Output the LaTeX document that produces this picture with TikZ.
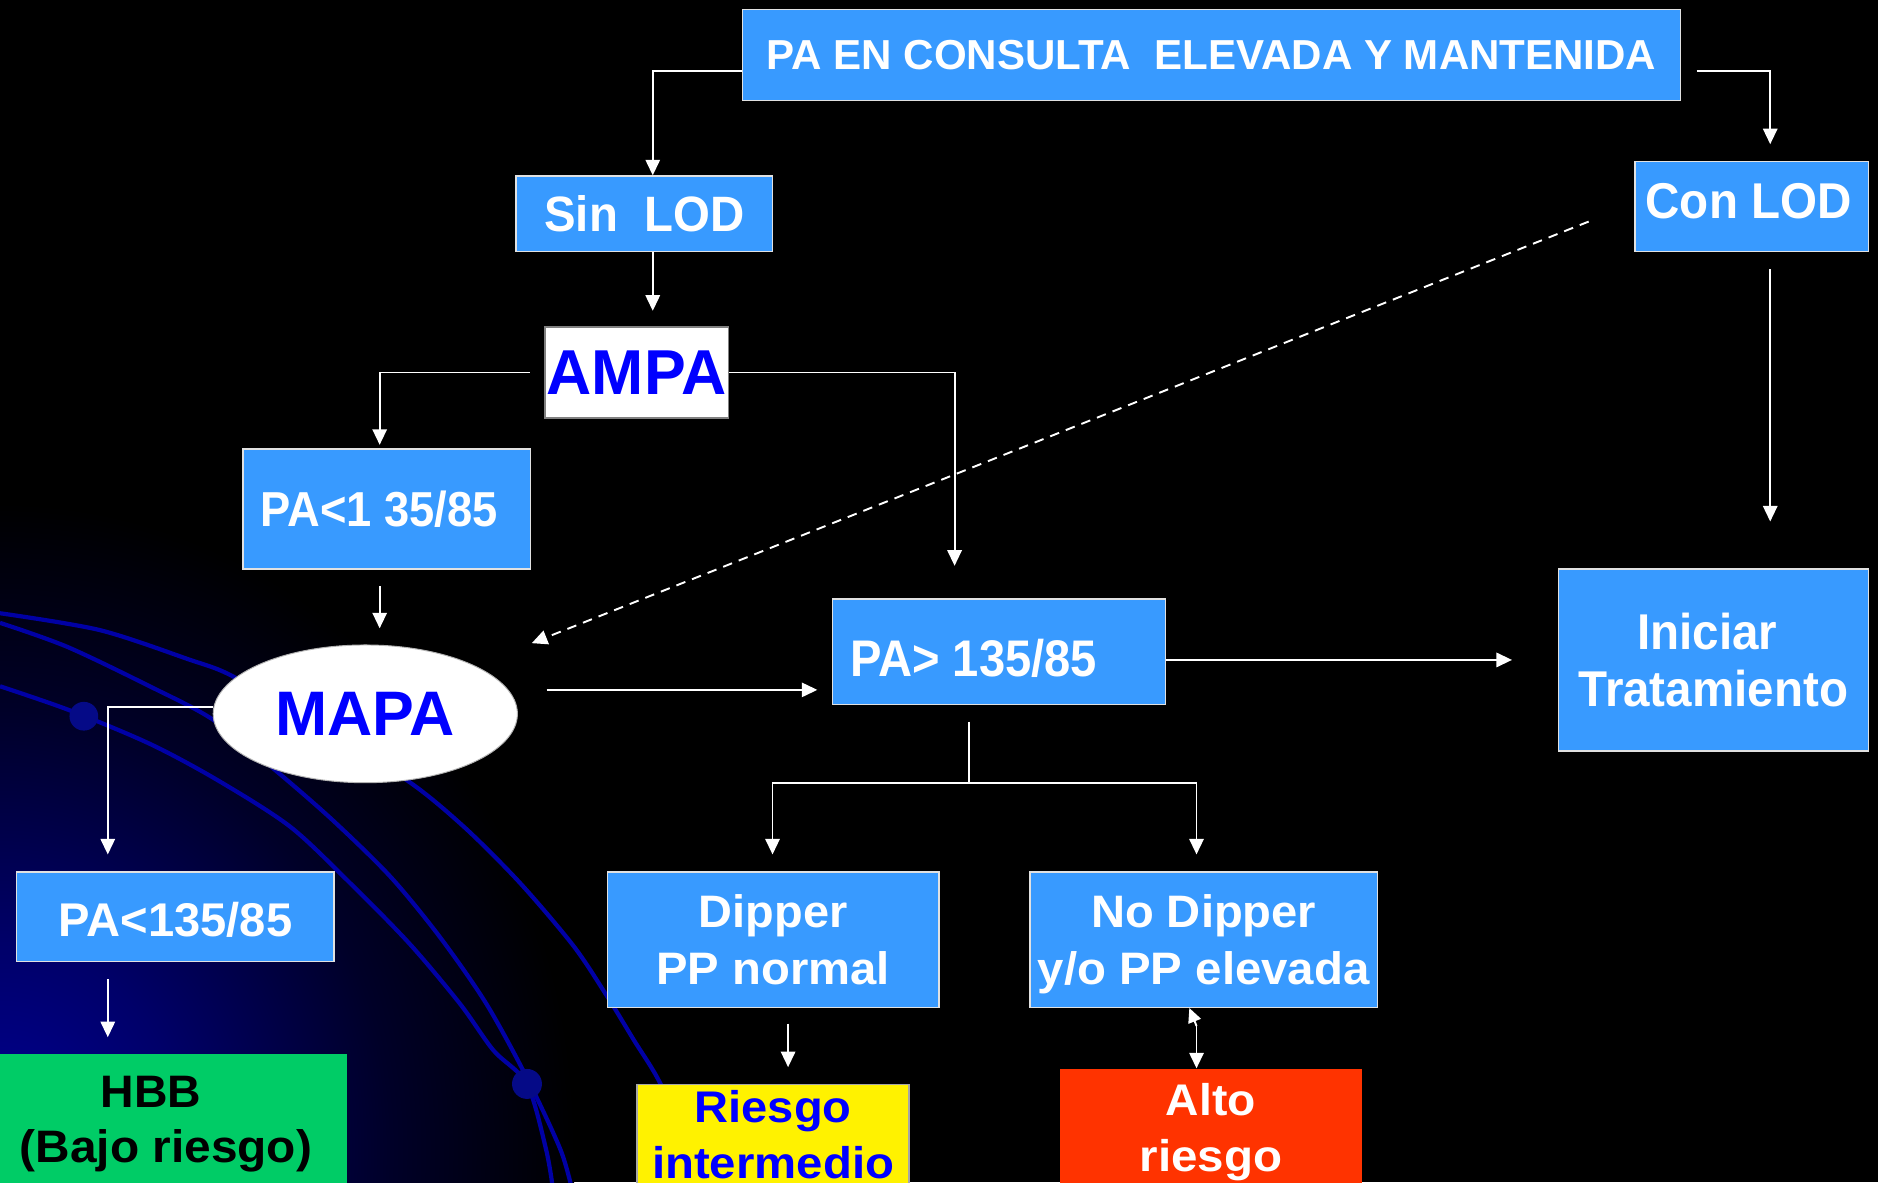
\documentclass[tikz,border=0pt]{standalone}
\usepackage{fontspec}
\usepackage{graphicx}
\setmainfont{Liberation Sans}
\usetikzlibrary{arrows.meta,shapes.geometric}
\definecolor{boxblue}{RGB}{56,154,255}
\definecolor{bordergray}{RGB}{225,225,225}
\definecolor{puroblue}{RGB}{0,0,255}
\definecolor{hbbgreen}{RGB}{0,204,102}
\definecolor{altored}{RGB}{255,51,0}
\definecolor{curveblue}{RGB}{0,0,165}
\definecolor{dotblue}{RGB}{5,10,135}
\definecolor{glowA}{RGB}{0,0,150}
\definecolor{glowB}{RGB}{0,0,105}
\definecolor{glowC}{RGB}{0,0,40}
\pgfdeclareradialshading{bgglow}{\pgfpointorigin}{color(0bp)=(glowA); color(8bp)=(glowB); color(17bp)=(glowC); color(25bp)=(black); color(50bp)=(black)}
% text fitted to a measured width, natural height kept
\newcommand\fitT[3]{\resizebox{#2pt}{\height}{\fontsize{#1pt}{#1pt}\selectfont #3}}
% shift content horizontally (#1) and vertically (#2)
\newcommand\shiftT[3]{\makebox[0pt]{\kern#1\raisebox{#2}[\height][\depth]{#3}\kern-#1}}
% no depth
\newcommand\nodp[1]{\raisebox{0pt}[\height][0pt]{#1}}
\begin{document}
\begin{tikzpicture}[x=1pt,y=-1pt,
  box/.style={draw=bordergray, line width=1.2pt, fill=boxblue, text=white, inner sep=0pt,
    align=center, font=\bfseries\fontsize{38pt}{47pt}\selectfont},
  ampabox/.style={draw=gray, line width=1pt, fill=white, text=puroblue, inner sep=0pt,
    font=\bfseries},
  riskbox/.style={inner sep=0pt, align=center, anchor=north,
    font=\bfseries\fontsize{37pt}{47pt}\selectfont},
  conn/.style={white, line width=1.6pt},
  arr/.style={conn, -{Triangle[length=13pt,width=12pt]}},
  curve/.style={curveblue, line width=3.5pt},
]
\useasboundingbox (0,0) rectangle (1568,987);
\clip (0,0) rectangle (1568,987);
\fill[black] (0,0) rectangle (1568,987);
\shade[shading=bgglow] (0,960) ellipse [x radius=480, y radius=540];

% decorative curves
\draw[curve] plot[smooth] coordinates {(0,512) (83,526) (156,550) (195,565) (265,608) (339,651) (387,690) (434,737) (479,790) (507,832) (529,868) (551,904) (575,960) (588,995)};
\draw[curve] plot[smooth] coordinates {(0,520) (56,540) (125,573) (178,601) (231,644) (278,685) (326,732) (367,782) (406,838) (440,900) (468,960) (478,995)};
\draw[curve] plot[smooth] coordinates {(0,573) (58,593) (125,621) (181,651) (242,690) (292,737) (342,788) (384,838) (412,877) (440,905) (456,960) (462,995)};
\fill[dotblue] (70,598) circle[radius=12];
\fill[dotblue] (440,905) circle[radius=12.5];

% nodes
\node[box, minimum width=783pt, minimum height=76pt] (top) at (1011.5,46)
  {\fitT{35}{743}{PA EN CONSULTA\ \ ELEVADA Y MANTENIDA}};
\node[box, minimum width=214pt, minimum height=63pt] (sinlod) at (538,178.5)
  {\fitT{41.5}{167}{Sin\ \ LOD}};
\node[box, minimum width=195pt, minimum height=75pt] (conlod) at (1462.5,172.5)
  {\shiftT{-2.5pt}{4.5pt}{\fitT{42}{172}{Con LOD}}};
\node[ampabox, minimum width=153pt, minimum height=76pt] (ampa) at (531.5,311)
  {\fitT{53}{150}{AMPA}};
\node[box, minimum width=240pt, minimum height=100pt] (pa1) at (323,425)
  {\shiftT{-6.5pt}{0pt}{\fitT{41}{198}{PA<1 35/85}}};
\node[ellipse, draw=gray!60, line width=0.8pt, fill=white, inner sep=0pt, minimum width=254pt,
  minimum height=115pt, text=puroblue, font=\bfseries] (mapa) at (305,596)
  {\fitT{52.5}{150}{MAPA}};
\node[box, minimum width=278pt, minimum height=88pt] (pa2) at (834,544)
  {\shiftT{-21pt}{-6pt}{\fitT{43}{206}{PA> 135/85}}};
\node[box, minimum width=259pt, minimum height=152pt, font=\bfseries\fontsize{42pt}{48pt}\selectfont] (ini) at (1430.5,551)
  {\shiftT{-5pt}{0pt}{\fitT{42}{117}{Iniciar}}\\\fitT{42}{225}{Tratamiento}};
\node[box, minimum width=265pt, minimum height=75pt] (pa3) at (146.5,765.5)
  {\shiftT{0pt}{-2.5pt}{\fitT{39.5}{195}{PA<135/85}}};
\node[riskbox, fill=hbbgreen, text=black, minimum width=290pt, minimum height=109pt,
  font=\bfseries\fontsize{38pt}{46pt}\selectfont] (hbb) at (145,880)
  {\shiftT{-19pt}{0pt}{\fitT{38}{84}{HBB}}\\\nodp{\shiftT{-6.5pt}{0pt}{\fitT{38}{244}{(Bajo riesgo)}}}};
\node[box, minimum width=277pt, minimum height=113pt] (dip) at (645.5,784.5)
  {\fitT{38}{124}{Dipper}\\\nodp{\fitT{38}{195}{PP normal}}};
\node[box, minimum width=290pt, minimum height=113pt] (nodip) at (1005,784.5)
  {\fitT{38}{188}{No Dipper}\\\nodp{\fitT{38}{277}{y/o PP elevada}}};
\node[riskbox, fill=yellow, draw=gray!70, line width=1.2pt, text=puroblue, minimum width=227pt,
  minimum height=83pt] (ri) at (645.5,905)
  {\fitT{37}{131}{Riesgo}\\\nodp{\fitT{37}{202}{intermedio}}};
\node[riskbox, fill=altored, text=white, minimum width=252pt, minimum height=98pt] (alto) at (1011,892)
  {\fitT{37}{75}{Alto}\\\nodp{\fitT{37}{119}{riesgo}}};

% connectors
\draw[arr] ([yshift=-13pt]top.west) -| ([xshift=7pt]sinlod.north);
\draw[arr, shorten >=14pt] ([xshift=13pt,yshift=-13pt]top.east) -| ([xshift=15.5pt]conlod.north);
\draw[arr, shorten >=13pt] ([xshift=7pt]sinlod.south) -- ([xshift=13.5pt]ampa.north);
\draw[arr, shorten >=3pt] ([xshift=-12pt]ampa.west) -| ([xshift=-6pt]pa1.north);
\draw[arr, shorten >=27pt] (ampa.east) -| ([xshift=-37pt]pa2.north);
\draw[arr, shorten <=14pt, shorten >=13.5pt] ([xshift=-6pt]pa1.south) -- ([xshift=12pt]mapa.north);
\draw[arr, shorten <=14pt, shorten >=39pt] ([xshift=15.5pt]conlod.south) -- ([xshift=47.5pt]ini.north);
\draw[arr, dash pattern=on 8pt off 6pt] ([xshift=-38pt,yshift=-12.5pt]conlod.west) -- ([xshift=139pt,yshift=59pt]mapa.center);
\draw[arr, shorten >=12pt] ([xshift=24pt,yshift=20pt]mapa.east) -- ([yshift=-32pt]pa2.west);
\draw[arr, shorten >=38pt] ([yshift=-7pt]pa2.east) -- (ini.west);
\draw[arr, shorten >=14pt] ([yshift=6pt]mapa.west) -| ([xshift=-56.5pt]pa3.north);
\draw[arr, shorten <=14pt, shorten >=14pt] ([xshift=-56.5pt]pa3.south) -- ([xshift=-55pt]hbb.north);
\coordinate (fork) at ([xshift=-25pt,yshift=-65pt]pa2.south);
\draw[conn, shorten <=14pt] ([xshift=-25pt]pa2.south) -- (fork);
\draw[arr, shorten >=14pt] (fork) -| ([xshift=-0.5pt]dip.north);
\draw[arr, shorten >=14pt] (fork) -| ([xshift=-6pt]nodip.north);
\draw[arr, shorten <=13pt, shorten >=14pt] ([xshift=12.5pt]dip.south) -- ([xshift=12.5pt]ri.north);
\coordinate (nd) at ([xshift=-6pt,yshift=-15pt]nodip.south);
\draw[arr] (nd) -- ([xshift=-12pt]alto.north);
\draw[conn, -{Triangle[length=12pt,width=11pt]}] (nd) -- ([xshift=-12pt]nodip.south);
\end{tikzpicture}
\end{document}
